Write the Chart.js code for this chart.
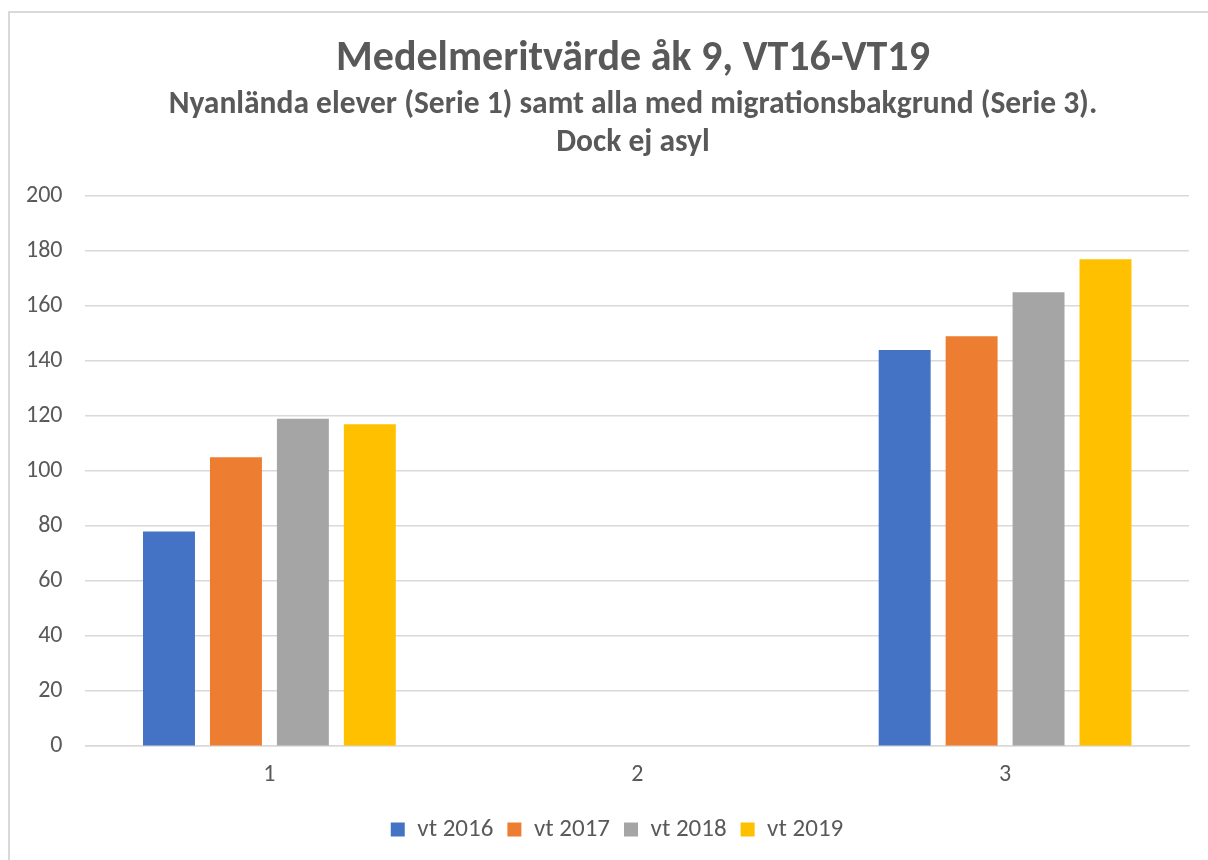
<!DOCTYPE html>
<html>
<head>
<meta charset="utf-8">
<script src="https://cdn.jsdelivr.net/npm/chart.js@4.4.1/dist/chart.umd.min.js"></script>
<style>
  html, body { margin: 0; padding: 0; background: #fff; }
  #frame { position: absolute; left: 8px; top: 11px; width: 1300px; height: 1000px; border-top: 2px solid #d9d9d9; border-left: 2px solid #d9d9d9; }
  #wrap { position: absolute; left: 0; top: 0; width: 1208px; height: 860px; }
</style>
</head>
<body>
<div id="frame"></div>
<div id="wrap"><canvas id="chart"></canvas></div>
<script>
// categories on the x axis
const categories = ['1', '2', '3'];
// one array per year, category 2 has no data
const vt2016 = [78, null, 144];
const vt2017 = [105, null, 149];
const vt2018 = [119, null, 165];
const vt2019 = [117, null, 177];
const seriesNames = ['vt 2016', 'vt 2017', 'vt 2018', 'vt 2019'];
const seriesColors = ['#4472c4', '#ed7d31', '#a5a5a5', '#ffc000'];
const titleText = 'Medelmeritvärde åk 9, VT16-VT19';
const subtitleLines = ['Nyanlända elever (Serie 1) samt alla med migrationsbakgrund (Serie 3).', 'Dock ej asyl'];

const font = "Calibri, Carlito, 'Open Sans', sans-serif";
const grey = '#595959';

// the title block is centred on the whole frame (which runs past the right edge), not on the plot
const titlePlugin = {
  id: 'frameTitle',
  afterLayout(chart) {
    // legend sits a bit right of the plot centre too
    const lg = chart.legend;
    if (lg) { lg.left += 21; lg.right += 21; }
  },
  afterDraw(chart) {
    const ctx = chart.ctx;
    const cx = 633;
    ctx.save();
    ctx.fillStyle = grey;
    ctx.textAlign = 'center';
    ctx.textBaseline = 'alphabetic';
    ctx.font = 'bold 42px ' + font;
    ctx.fillText(titleText, cx, 70);
    ctx.font = 'bold 31.5px ' + font;
    ctx.fillText(subtitleLines[0], cx, 113);
    ctx.fillText(subtitleLines[1], cx, 151);
    ctx.restore();
  }
};

const chart = new Chart(document.getElementById('chart'), {
  type: 'bar',
  data: {
    labels: categories,
    datasets: [vt2016, vt2017, vt2018, vt2019].map((vals, i) => ({
      label: seriesNames[i],
      data: vals,
      backgroundColor: seriesColors[i],
      categoryPercentage: 0.728,
      barPercentage: 0.776
    }))
  },
  options: {
    responsive: true,
    maintainAspectRatio: false,
    animation: false,
    layout: { padding: { left: 3, right: 19, top: 196, bottom: 8 } },
    plugins: {
      title: { display: false },
      legend: {
        position: 'bottom',
        labels: {
          color: grey,
          font: { family: font, size: 25 },
          boxWidth: 14,
          boxHeight: 14,
          padding: 14
        }
      },
      tooltip: { enabled: false }
    },
    scales: {
      x: {
        grid: { display: false, drawTicks: false },
        border: { color: '#d9d9d9', width: 1.5 },
        ticks: { color: grey, font: { family: font, size: 24 }, padding: 14 }
      },
      y: {
        min: 0,
        max: 200,
        grid: { color: '#d9d9d9', lineWidth: 1.5, drawTicks: false },
        border: { display: false },
        ticks: { stepSize: 20, color: grey, font: { family: font, size: 24 }, padding: 23 }
      }
    }
  },
  plugins: [titlePlugin]
});
</script>
</body>
</html>
